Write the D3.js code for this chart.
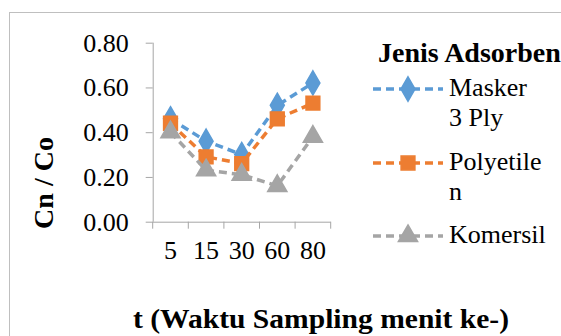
<!DOCTYPE html>
<html><head><meta charset="utf-8">
<script src="https://cdn.jsdelivr.net/npm/d3@7"></script>
<style>body{margin:0;background:#fff}svg{display:block}</style>
</head><body>
<svg id="c" width="561" height="336"></svg>
<script>
const categories = ["5","15","30","60","80"];
const masker = [0.46,0.36,0.30,0.52,0.62];
const polyetilen = [0.44,0.29,0.26,0.46,0.53];
const komersil = [0.40,0.23,0.21,0.16,0.38];
const yTicks = [0,0.2,0.4,0.6,0.8];
const seriesNames = [["Masker","3 Ply"],["Polyetile","n"],["Komersil"]];

const svg = d3.select("#c");
const font = "'Liberation Serif','Times New Roman',serif";
svg.append("rect").attr("x",9.5).attr("y",12.5).attr("width",600).attr("height",400)
  .attr("fill","#fff").attr("stroke","#BFBFBF").attr("stroke-width",1);

const x = d3.scaleBand().domain(categories).range([152.7,330.7]);
const y = d3.scaleLinear().domain([0,0.8]).range([221.7,42.7]);
const axisColor = "#A6A6A6";

const ya = svg.append("g").attr("transform","translate(152.7,0)")
  .call(d3.axisLeft(y).tickValues(yTicks).tickFormat(d3.format(".2f")).tickSize(7).tickPadding(17));
const xa = svg.append("g").attr("transform","translate(0,221.7)")
  .call(d3.axisBottom(x).tickSize(0).tickPadding(19));
const bounds = categories.map(c=>x(c)).concat([x.range()[1]]);
svg.append("g").selectAll("line").data(bounds).join("line")
  .attr("x1",d=>d).attr("x2",d=>d).attr("y1",221.7).attr("y2",228.7)
  .attr("stroke",axisColor);
[ya,xa].forEach(g=>{
  g.selectAll("path,line").attr("stroke",axisColor);
  g.selectAll("text").attr("font-family",font).attr("font-size",26).attr("fill","#000");
});
xa.select(".domain").attr("d","M152.7,0.5H330.7");
ya.select(".domain").attr("d","M0.5,42.7V221.7");

const series = [
  {vals:masker,color:"#5B9BD5",sym:d3.symbolDiamond,size:170},
  {vals:polyetilen,color:"#ED7D31",sym:d3.symbolSquare,size:190},
  {vals:komersil,color:"#A5A5A5",sym:d3.symbolTriangle,size:160}
];
const cx = c=>x(c)+x.bandwidth()/2;
series.forEach(s=>{
  const line = d3.line().x((d,i)=>cx(categories[i])).y(d=>y(d));
  svg.append("path").datum(s.vals).attr("d",line).attr("fill","none")
    .attr("stroke",s.color).attr("stroke-width",3.5).attr("stroke-dasharray","8,5");
  svg.append("g").selectAll("path").data(s.vals).join("path")
    .attr("transform",(d,i)=>`translate(${cx(categories[i])},${y(d)})`)
    .attr("d",d3.symbol().type(s.sym).size(s.size)).attr("fill",s.color)
    .attr("stroke",s.color).attr("stroke-width",1.5);
});

svg.append("text").attr("transform","translate(53,183) rotate(-90)").attr("text-anchor","middle")
  .attr("font-family",font).attr("font-weight","bold").attr("font-size",28).text("Cn / Co");
svg.append("text").attr("x",133).attr("y",328).attr("textLength",376).attr("lengthAdjust","spacingAndGlyphs")
  .attr("font-family",font).attr("font-weight","bold").attr("font-size",28).text("t (Waktu Sampling menit ke-)");

svg.append("text").attr("x",378).attr("y",62).attr("font-family",font).attr("font-weight","bold")
  .attr("font-size",28).text("Jenis Adsorben");
const legY = [96,170,243];
series.forEach((s,i)=>{
  const ly = legY[i]-7;
  svg.append("line").attr("x1",373).attr("x2",443).attr("y1",ly).attr("y2",ly)
    .attr("stroke",s.color).attr("stroke-width",3.5).attr("stroke-dasharray","8,5");
  svg.append("path").attr("transform",`translate(408,${ly})`)
    .attr("d",d3.symbol().type(s.sym).size(s.size)).attr("fill",s.color)
    .attr("stroke",s.color).attr("stroke-width",1.5);
  const t = svg.append("text").attr("x",449).attr("y",legY[i]).attr("font-family",font).attr("font-size",26);
  seriesNames[i].forEach((ln,j)=>t.append("tspan").attr("x",449).attr("dy",j?30:0).text(ln));
});
</script>
</body></html>
